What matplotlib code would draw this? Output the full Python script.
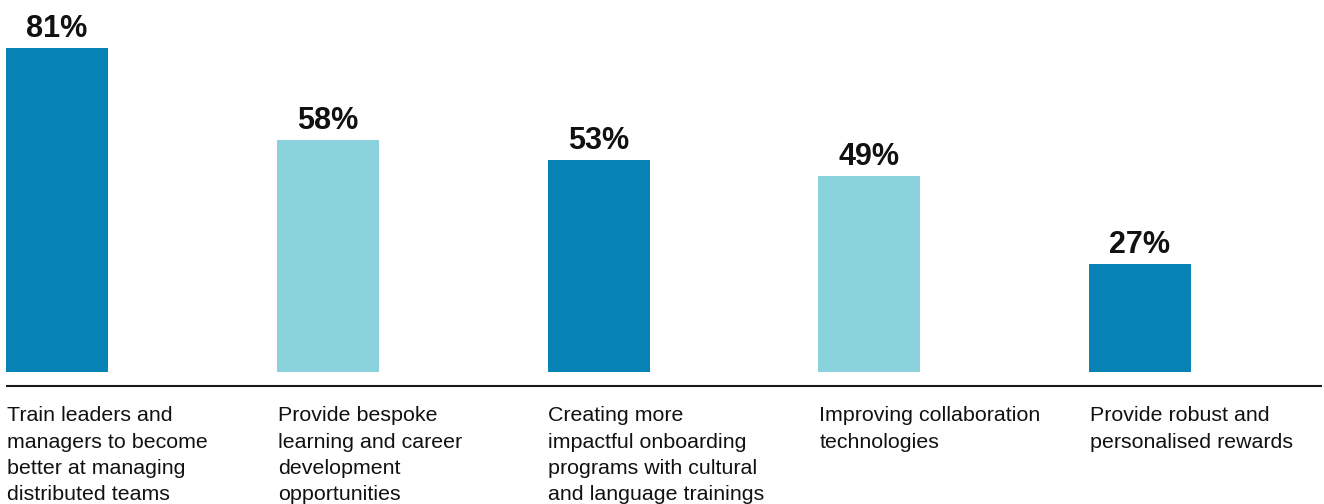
import matplotlib
matplotlib.use("Agg")
import matplotlib.pyplot as plt

categories = [
    "Train leaders and\nmanagers to become\nbetter at managing\ndistributed teams",
    "Provide bespoke\nlearning and career\ndevelopment\nopportunities",
    "Creating more\nimpactful onboarding\nprograms with cultural\nand language trainings",
    "Improving collaboration\ntechnologies",
    "Provide robust and\npersonalised rewards",
]
values = [81, 58, 53, 49, 27]
colors = ["#0683b4", "#8ad3dc", "#0683b4", "#8ad3dc", "#0683b4"]

DPI = 100
W, H = 1324, 504
fig = plt.figure(figsize=(W / DPI, H / DPI), dpi=DPI)
fig.patch.set_facecolor("white")

# axes: bottom of bars at y=372px, top of figure at 0
ax = fig.add_axes([0, (H - 372) / H, 1, 372 / H])
spacing = 270.75
x0 = 57
ax.set_xlim(-x0 / spacing, (W - x0) / spacing)
px_per_unit = 4.0
ax.set_ylim(0, 372 / px_per_unit)
ax.axis("off")

xs = list(range(len(values)))
bar_w = 102 / spacing
ax.bar(xs, values, width=bar_w, color=colors, linewidth=0)

for x, v in zip(xs, values):
    ax.annotate(f"{v}%", xy=(x, v), xytext=(0, 11 * 72 / DPI), textcoords="offset points",
                ha="center", va="baseline", fontsize=22, fontweight="bold",
                family="Liberation Sans", color="#111111")

# baseline rule
ax.plot([(6 - x0) / spacing, (1322 - x0) / spacing], [-14 / px_per_unit] * 2,
        color="#1a1a1a", linewidth=1.5, clip_on=False, solid_capstyle="butt")

for x, lab in zip(xs, categories):
    ax.text(x - bar_w / 2 + 1 / spacing, -34 / px_per_unit, lab, ha="left", va="top",
            fontsize=15.4, family="Liberation Sans", color="#111111", linespacing=1.5,
            clip_on=False)

fig.savefig("out.png", dpi=DPI, facecolor="white")
